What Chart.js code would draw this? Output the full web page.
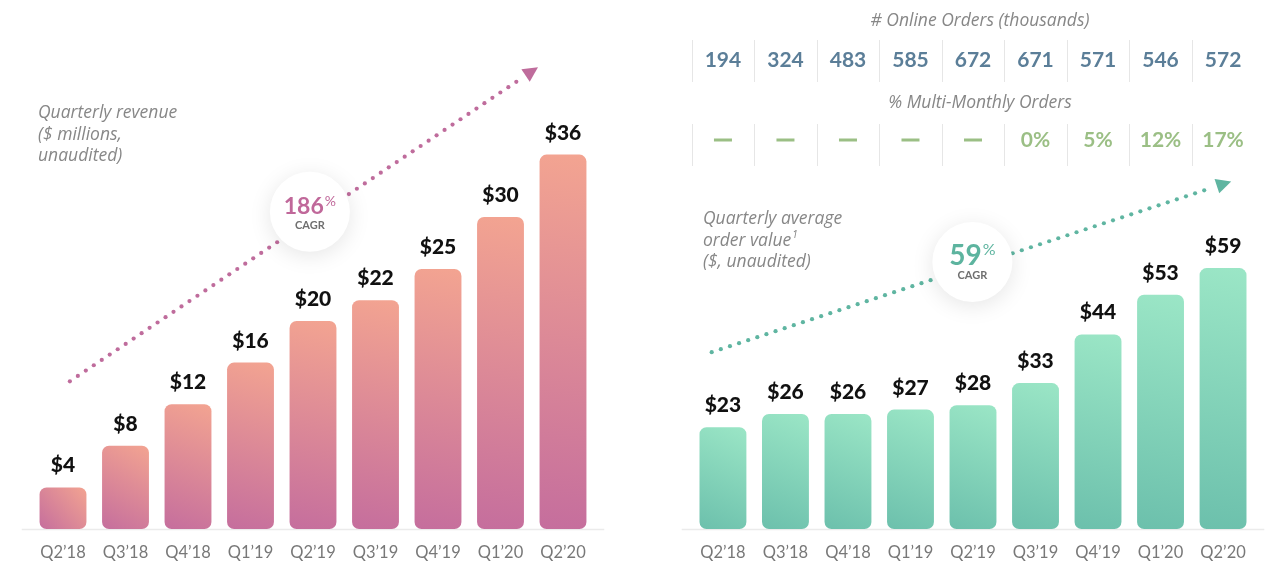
<!DOCTYPE html>
<html>
<head>
<meta charset="utf-8">
<script src="https://cdn.jsdelivr.net/npm/chart.js@4/dist/chart.umd.min.js"></script>
<style>
  body { margin: 0; background: #fff; width: 1280px; height: 575px; overflow: hidden; position: relative; }
  .box { position: absolute; top: 0; width: 640px; height: 575px; }
</style>
</head>
<body>
<div class="box" style="left:0"><canvas id="revenue" width="640" height="575"></canvas></div>
<div class="box" style="left:640px"><canvas id="orderValue" width="640" height="575"></canvas></div>
<script>
var quarters = ["Q2\u201918", "Q3\u201918", "Q4\u201918", "Q1\u201919", "Q2\u201919", "Q3\u201919", "Q4\u201919", "Q1\u201920", "Q2\u201920"];
var revenue = [4, 8, 12, 16, 20, 22, 25, 30, 36];
var avgOrderValue = [23, 26, 26, 27, 28, 33, 44, 53, 59];
var onlineOrders = [194, 324, 483, 585, 672, 671, 571, 546, 572];
var multiMonthly = [null, null, null, null, null, 0, 5, 12, 17];

var FONT = "Lato, 'Open Sans', sans-serif";
var ITALIC = "'Open Sans', Lato, sans-serif";

// gradient for every bar, from the scales (top colour -> bottom colour, diagonal)
function barGradient(top, bottom) {
    return function(c) {
        var chart = c.chart;
        if (!chart.chartArea) return bottom;
        var xs = chart.scales.x, ys = chart.scales.y;
        var x = xs.getPixelForValue(c.dataIndex);
        var y = ys.getPixelForValue(c.raw);
        var b = ys.getPixelForValue(0);
        var g = chart.ctx.createLinearGradient(x + 24, y, x - 24, b);
        g.addColorStop(0, top);
        g.addColorStop(1, bottom);
        return g;
    };
}

function dottedArrow(ctx, x1, y1, x2, y2, color) {
    var dx = x2 - x1, dy = y2 - y1;
    var len = Math.sqrt(dx * dx + dy * dy);
    var ux = dx / len, uy = dy / len;
    ctx.fillStyle = color;
    for (var d = 0; d < len - 20; d += 9.6) {
        ctx.beginPath();
        ctx.arc(x1 + ux * d, y1 + uy * d, 2.1, 0, Math.PI * 2);
        ctx.fill();
    }
    // arrow head
    var hl = 15, hw = 7.5;
    var bx = x2 - ux * hl, by = y2 - uy * hl;
    ctx.beginPath();
    ctx.moveTo(x2, y2);
    ctx.lineTo(bx - uy * hw, by + ux * hw);
    ctx.lineTo(bx + uy * hw, by - ux * hw);
    ctx.closePath();
    ctx.fill();
}

function cagrBadge(ctx, cx, cy, r, pct, color, bigSize, smallSize) {
    ctx.save();
    ctx.shadowColor = "rgba(0,0,0,0.10)";
    ctx.shadowBlur = 22;
    ctx.shadowOffsetY = 4;
    ctx.fillStyle = "#fff";
    ctx.beginPath();
    ctx.arc(cx, cy, r, 0, Math.PI * 2);
    ctx.fill();
    ctx.restore();

    ctx.font = "bold " + bigSize + "px " + FONT;
    var w1 = ctx.measureText(pct).width;
    ctx.font = smallSize + "px " + FONT;
    var w2 = ctx.measureText("%").width;
    var sx = cx - (w1 + w2 + 1) / 2;
    ctx.fillStyle = color;
    ctx.textAlign = "left";
    ctx.textBaseline = "alphabetic";
    ctx.font = "bold " + bigSize + "px " + FONT;
    ctx.fillText(pct, sx, cy + bigSize * 0.1);
    ctx.font = smallSize + "px " + FONT;
    ctx.fillText("%", sx + w1 + 1, cy - bigSize * 0.25);
    ctx.fillStyle = "#6f6f6f";
    ctx.textAlign = "center";
    ctx.font = "bold 11px " + FONT;
    ctx.fillText("CAGR", cx, cy + 17);
}

function makeDecor(opts) {
    return {
        id: "decor",
        beforeDatasetsDraw: function(chart) {
            var ctx = chart.ctx, a = chart.chartArea, ys = chart.scales.y;
            var y0 = ys.getPixelForValue(0);
            ctx.save();
            ctx.strokeStyle = "#ebebeb";
            ctx.lineWidth = 1.5;
            ctx.beginPath();
            ctx.moveTo(a.left - 10, y0 + 0.5);
            ctx.lineTo(a.right + 10, y0 + 0.5);
            ctx.stroke();
            ctx.restore();
        },
        afterDatasetsDraw: function(chart) {
            var ctx = chart.ctx, xs = chart.scales.x, ys = chart.scales.y;
            ctx.save();
            // value labels above bars
            var meta = chart.getDatasetMeta(0);
            ctx.fillStyle = "#111";
            ctx.font = "900 21px " + FONT;
            ctx.textAlign = "center";
            ctx.textBaseline = "alphabetic";
            meta.data.forEach(function(bar, i) {
                ctx.fillText("$" + chart.data.datasets[0].data[i], bar.x, bar.y - 15);
            });

            // dotted trend arrow and CAGR badge
            dottedArrow(ctx,
                xs.getPixelForValue(opts.from[0]), ys.getPixelForValue(opts.from[1]),
                xs.getPixelForValue(opts.to[0]), ys.getPixelForValue(opts.to[1]), opts.color);
            cagrBadge(ctx, xs.getPixelForValue(opts.badge[0]), ys.getPixelForValue(opts.badge[1]),
                40, opts.cagr, opts.textColor, opts.bigSize, opts.smallSize);

            // caption
            ctx.fillStyle = "#878787";
            ctx.textAlign = "left";
            ctx.font = "italic 17.5px " + ITALIC;
            opts.caption.forEach(function(line, i) {
                ctx.fillText(line, opts.captionX, opts.captionY + i * 21.5);
            });
            if (opts.sup) {
                var w = ctx.measureText(opts.caption[1]).width;
                ctx.font = "italic 10px " + ITALIC;
                ctx.fillText("1", opts.captionX + w + 1, opts.captionY + 21.5 - 8);
            }
            if (opts.table) opts.table(chart);
            ctx.restore();
        }
    };
}

function drawTable(chart) {
    var ctx = chart.ctx, xs = chart.scales.x, a = chart.chartArea;
    var half = (xs.getPixelForValue(1) - xs.getPixelForValue(0)) / 2;
    var mid = (a.left + a.right) / 2 + 7;
    ctx.textAlign = "center";
    ctx.textBaseline = "middle";
    ctx.fillStyle = "#878787";
    ctx.font = "italic 17.5px " + ITALIC;
    ctx.fillText("# Online Orders (thousands)", mid, 21);
    ctx.fillText("% Multi-Monthly Orders", mid, 103);

    ctx.strokeStyle = "#e6e6e6";
    ctx.lineWidth = 1;
    quarters.forEach(function(q, i) {
        var x = Math.round(xs.getPixelForValue(i) - half) + 0.5;
        ctx.beginPath();
        ctx.moveTo(x, 40); ctx.lineTo(x, 82);
        ctx.moveTo(x, 124); ctx.lineTo(x, 166);
        ctx.stroke();
    });

    ctx.font = "bold 21px " + FONT;
    ctx.fillStyle = "#5b7e98";
    onlineOrders.forEach(function(v, i) {
        ctx.fillText(String(v), xs.getPixelForValue(i), 60);
    });
    ctx.fillStyle = "#9bbf85";
    multiMonthly.forEach(function(v, i) {
        var x = xs.getPixelForValue(i);
        if (v === null) {
            ctx.fillRect(x - 9, 138.5, 18, 3);
        } else {
            ctx.fillText(v + "%", x, 140);
        }
    });
}

function makeConfig(data, yMax, padL, padR, top, bottom, decor) {
    return {
        type: "bar",
        data: {
            labels: quarters,
            datasets: [{
                data: data,
                backgroundColor: barGradient(top, bottom),
                borderRadius: 7,
                borderSkipped: false,
                barPercentage: 0.75,
                categoryPercentage: 1
            }]
        },
        options: {
            responsive: false,
            animation: false,
            devicePixelRatio: 1,
            layout: { padding: { left: padL, right: padR, top: 9, bottom: 0 } },
            plugins: { legend: { display: false }, tooltip: { enabled: false } },
            scales: {
                y: { display: false, min: 0, max: yMax },
                x: {
                    grid: { display: false, drawTicks: false },
                    border: { display: false },
                    ticks: { color: "#787878", font: { family: FONT, size: 16.5 }, padding: 14 },
                    afterFit: function(s) { s.height = 46; }
                }
            }
        },
        plugins: [decor]
    };
}

new Chart(document.getElementById("revenue"),
    makeConfig(revenue, 50, 31.75, 45.75, "#f3a491", "#c56e9d", makeDecor({
        from: [0.11, 14.2], to: [7.6, 44.4], badge: [3.95, 30.5],
        color: "#bf6c9c", textColor: "#c0689a", cagr: "186", bigSize: 23, smallSize: 14,
        caption: ["Quarterly revenue", "($ millions,", "unaudited)"], captionX: 38, captionY: 118
    })));

new Chart(document.getElementById("orderValue"),
    makeConfig(avgOrderValue, 117.6, 51.7, 25.7, "#9be6c6", "#6cc0ac", makeDecor({
        from: [-0.18, 40], to: [8.13, 78.6], badge: [3.99, 60.4],
        color: "#5fb5a1", textColor: "#5db49f", cagr: "59", bigSize: 28, smallSize: 16,
        caption: ["Quarterly average", "order value", "($, unaudited)"], captionX: 63, captionY: 224, sup: true,
        table: drawTable
    })));
</script>
</body>
</html>
